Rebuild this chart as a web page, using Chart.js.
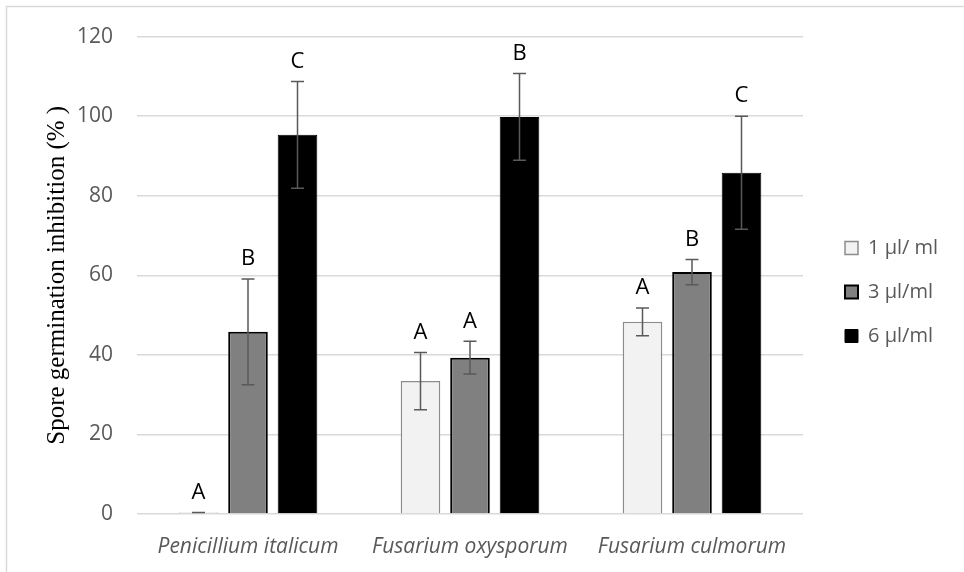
<!DOCTYPE html>
<html>
<head>
<meta charset="utf-8">
<script src="https://cdn.jsdelivr.net/npm/chart.js@4/dist/chart.umd.min.js"></script>
<style>
  html, body { margin: 0; padding: 0; background: #fff; }
  #wrap { width: 964px; height: 572px; position: relative; }
</style>
</head>
<body>
<div id="wrap"><canvas id="c" width="964" height="572"></canvas></div>
<script>
// Fungal species tested
const categories = ['Penicillium italicum', 'Fusarium oxysporum', 'Fusarium culmorum'];
// Essential-oil doses
const seriesLabels = ['1 µl/ ml', '3 µl/ml', '6 µl/ml'];
// Mean spore germination inhibition (%)
const dose1 = [0.4, 33.4, 48.3];
const dose3 = [45.8, 39.3, 60.8];
const dose6 = [95.3, 99.8, 85.8];
// Standard deviations
const err1 = [0, 7.2, 3.5];
const err3 = [13.3, 4.1, 3.2];
const err6 = [13.4, 10.9, 14.2];
// Significance letters
const letters1 = ['A', 'A', 'A'];
const letters3 = ['B', 'A', 'B'];
const letters6 = ['C', 'B', 'C'];
// Y axis
const yMin = 0, yMax = 120, yStep = 20;
const yTitle = 'Spore germination inhibition (% )';

const sansFont = '"Open Sans", "Liberation Sans", sans-serif';
const labelGray = '#595959';
const gridGray = '#d9d9d9';

// Outer frame of the chart
const framePlugin = {
  id: 'frame',
  beforeDraw(chart) {
    const ctx = chart.ctx;
    ctx.save();
    ctx.fillStyle = '#ffffff';
    ctx.fillRect(0, 0, chart.width, chart.height);
    ctx.strokeStyle = gridGray;
    ctx.lineWidth = 1.5;
    ctx.strokeRect(6.5, 6.5, chart.width + 10, chart.height + 10);
    ctx.restore();
  }
};

// Error bars with caps, plus the letter above each bar
const errorLetterPlugin = {
  id: 'errorLetters',
  afterDatasetsDraw(chart) {
    const ctx = chart.ctx;
    const y = chart.scales.y;
    ctx.save();
    chart.data.datasets.forEach((ds, di) => {
      const meta = chart.getDatasetMeta(di);
      meta.data.forEach((bar, i) => {
        const v = ds.data[i];
        const e = ds.errors[i];
        const top = y.getPixelForValue(v + e);
        const bot = y.getPixelForValue(Math.max(v - e, 0));
        const x = bar.x;
        const cap = 6.5;
        ctx.strokeStyle = labelGray;
        ctx.lineWidth = 1.5;
        ctx.beginPath();
        ctx.moveTo(x, top); ctx.lineTo(x, bot);
        ctx.moveTo(x - cap, top); ctx.lineTo(x + cap, top);
        ctx.moveTo(x - cap, bot); ctx.lineTo(x + cap, bot);
        ctx.stroke();
        ctx.fillStyle = '#000000';
        ctx.font = '22px ' + sansFont;
        ctx.textAlign = 'center';
        ctx.textBaseline = 'middle';
        ctx.fillText(ds.letters[i], x, top - 20);
      });
    });
    ctx.restore();
  }
};

// Fixed legend width and placement
const legendPlace = {
  id: 'legendPlace',
  beforeInit(chart) {
    const fit = chart.legend.fit;
    chart.legend.fit = function () {
      fit.bind(chart.legend)();
      this.width = 161;
    };
  },
  afterLayout(chart) {
    const lg = chart.legend;
    lg.left += 18; lg.right += 18;
    lg.top -= 7; lg.bottom -= 7;
  }
};

new Chart(document.getElementById('c'), {
  type: 'bar',
  data: {
    labels: categories,
    datasets: [
      { label: seriesLabels[0], data: dose1, errors: err1, letters: letters1,
        backgroundColor: '#f2f2f2', borderColor: '#8c8c8c', borderWidth: 1.5 },
      { label: seriesLabels[1], data: dose3, errors: err3, letters: letters3,
        backgroundColor: '#808080', borderColor: '#000000', borderWidth: 2 },
      { label: seriesLabels[2], data: dose6, errors: err6, letters: letters6,
        backgroundColor: '#000000', borderColor: '#000000', borderWidth: 1 }
    ]
  },
  options: {
    responsive: false,
    animation: false,
    devicePixelRatio: 1,
    layout: { padding: { left: 0, top: 34, right: 0, bottom: 8 } },
    datasets: { bar: { categoryPercentage: 0.669, barPercentage: 0.8 } },
    plugins: {
      tooltip: { enabled: false },
      legend: {
        position: 'right',
        labels: {
          boxWidth: 13, boxHeight: 13, padding: 24,
          color: labelGray,
          font: { family: sansFont, size: 20 }
        }
      }
    },
    scales: {
      x: {
        grid: { display: false },
        border: { display: false },
        ticks: {
          color: labelGray, padding: 12,
          font: { family: sansFont, size: 21, style: 'italic' }
        },
        afterFit(s) { s.height = 50; }
      },
      y: {
        min: yMin, max: yMax,
        grid: { color: gridGray, lineWidth: 1.5, drawTicks: false },
        border: { display: false },
        ticks: {
          stepSize: yStep, padding: 24, color: labelGray,
          font: { family: sansFont, size: 21 }
        },
        title: {
          display: true, text: yTitle, color: '#000000',
          font: { family: '"Liberation Serif", "DejaVu Serif", serif', size: 25 },
          padding: { top: 42, bottom: 0 }
        },
        afterFit(s) { s.width = 137; }
      }
    }
  },
  plugins: [framePlugin, errorLetterPlugin, legendPlace]
});
</script>
</body>
</html>
